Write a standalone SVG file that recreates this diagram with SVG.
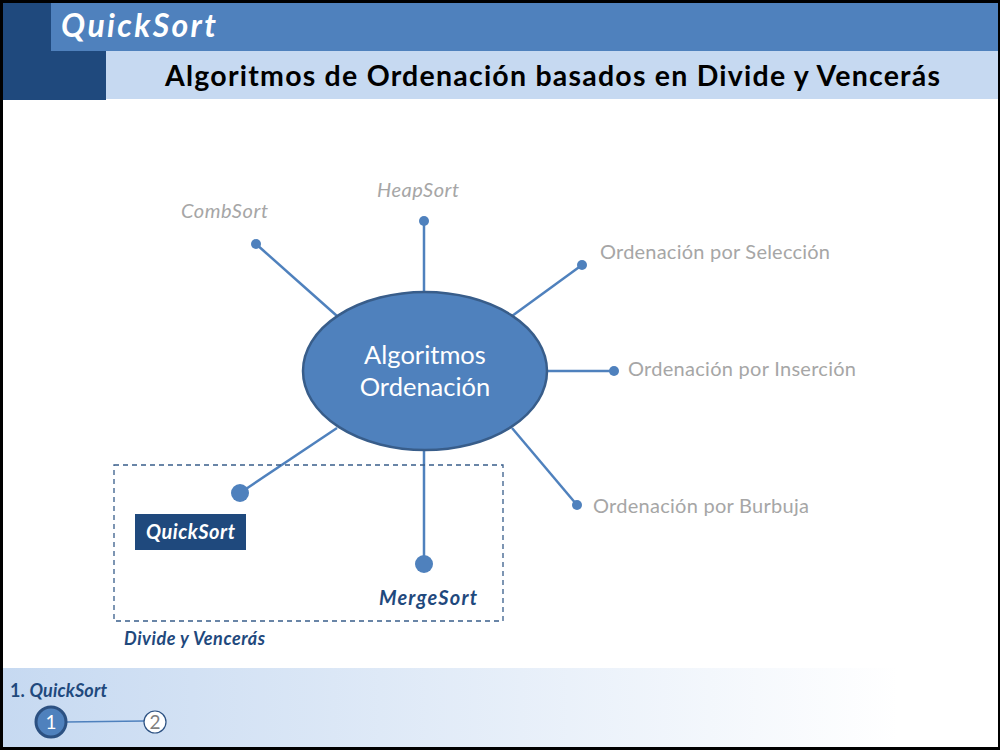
<svg xmlns="http://www.w3.org/2000/svg" width="1000" height="750" viewBox="0 0 1000 750">
<defs>
<linearGradient id="foot" x1="0" y1="0" x2="1" y2="0">
<stop offset="0" stop-color="#C6D9F1"/>
<stop offset="0.9" stop-color="#FFFFFF"/>
</linearGradient>
<style>
.f{font-family:Lato,"Open Sans","Liberation Sans",sans-serif}
.gray{fill:#A6A6A6;font-size:20px}
.conn line{stroke:#4F81BD;stroke-width:2.5}
.dot{fill:#4F81BD}
.dk{fill:#1F497D}
</style>
</defs>
<rect x="0" y="0" width="1000" height="750" fill="#000"/>
<rect x="3" y="3" width="995" height="744" fill="#fff"/>
<g id="header">
<rect x="3" y="3" width="103" height="97" fill="#1F497D"/>
<rect x="51" y="3" width="947" height="48" fill="#4F81BD"/>
<rect x="106" y="51" width="892" height="48" fill="#C6D9F1"/>
<text class="f" x="61" y="37" font-size="32" font-weight="bold" font-style="italic" fill="#fff" textLength="155">QuickSort</text>
<text class="f" x="165" y="86" font-size="28.5" font-weight="bold" fill="#000" textLength="775">Algoritmos de Ordenación basados en Divide y Vencerás</text>
</g>
<g id="footer">
<rect x="3" y="668" width="995" height="79" fill="url(#foot)"/>
<text class="f dk" x="10" y="697" font-size="18" font-weight="bold" textLength="97">1. <tspan font-style="italic">QuickSort</tspan></text>
<line x1="66" y1="722" x2="144" y2="721" stroke="#4F81BD" stroke-width="1.5"/>
<circle cx="51" cy="722" r="15" fill="#4F81BD" stroke="#2C5182" stroke-width="3"/>
<text class="f" x="51" y="729" font-size="19" fill="#fff" text-anchor="middle">1</text>
<circle cx="155" cy="722" r="11" fill="#fff" stroke="#2C5182" stroke-width="1.2"/>
<text class="f" x="155" y="729" font-size="19" fill="#7F7F7F" text-anchor="middle">2</text>
</g>
<g id="connectors" class="conn">
<line x1="256" y1="244" x2="337" y2="316"/>
<line x1="424" y1="221" x2="424" y2="292"/>
<line x1="582" y1="265" x2="512" y2="316"/>
<line x1="548" y1="371" x2="614" y2="371"/>
<line x1="512" y1="428" x2="577" y2="505"/>
<line x1="337" y1="428" x2="240" y2="493"/>
<line x1="424" y1="450" x2="424" y2="564"/>
</g>
<g id="group-dyv">
<rect x="114" y="465" width="389" height="156" fill="none" stroke="#385D8A" stroke-width="1.3" stroke-dasharray="5,4"/>
<text class="f dk" x="124" y="645" font-size="18" font-weight="bold" font-style="italic" textLength="141">Divide y Vencerás</text>
</g>
<g id="center">
<ellipse cx="425" cy="371" rx="122" ry="79" fill="#4F81BD" stroke="#385D8A" stroke-width="2.5"/>
<text class="f" x="425" y="364" font-size="25.5" fill="#fff" text-anchor="middle">Algoritmos</text>
<text class="f" x="425" y="396" font-size="25.5" fill="#fff" text-anchor="middle">Ordenación</text>
</g>
<g id="combsort">
<circle class="dot" cx="256" cy="244" r="5"/>
<text class="f gray" x="181" y="218" font-style="italic" textLength="87">CombSort</text>
</g>
<g id="heapsort">
<circle class="dot" cx="424" cy="221" r="5"/>
<text class="f gray" x="377" y="197" font-style="italic" textLength="82">HeapSort</text>
</g>
<g id="seleccion">
<circle class="dot" cx="582" cy="265" r="5"/>
<text class="f gray" x="600" y="259" textLength="230">Ordenación por Selección</text>
</g>
<g id="insercion">
<circle class="dot" cx="614" cy="371" r="5"/>
<text class="f gray" x="628" y="376" textLength="228">Ordenación por Inserción</text>
</g>
<g id="burbuja">
<circle class="dot" cx="577" cy="505" r="5"/>
<text class="f gray" x="593" y="513" textLength="216">Ordenación por Burbuja</text>
</g>
<g id="quicksort">
<circle class="dot" cx="240" cy="493" r="9"/>
<rect x="135" y="514" width="111" height="36" class="dk"/>
<text class="f" x="146" y="539" font-size="20" font-weight="bold" font-style="italic" fill="#fff" textLength="89">QuickSort</text>
</g>
<g id="mergesort">
<circle class="dot" cx="424" cy="564" r="9"/>
<text class="f dk" x="379" y="605" font-size="20" font-weight="bold" font-style="italic" textLength="98">MergeSort</text>
</g>
</svg>
